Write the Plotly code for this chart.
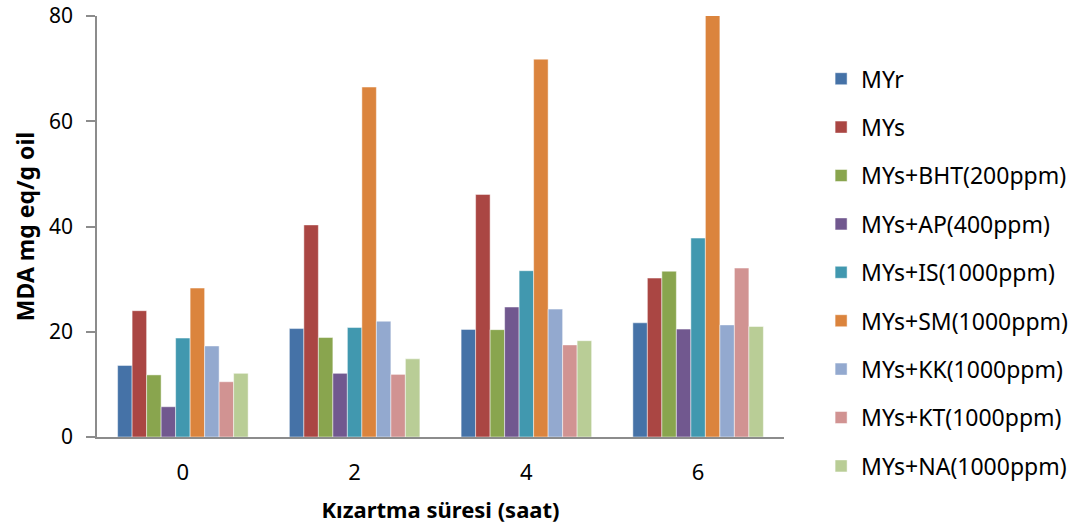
import plotly.graph_objects as go

# Frying time (hours)
hours = ["0", "2", "4", "6"]

series_names = [
    "MYr",
    "MYs",
    "MYs+BHT(200ppm)",
    "MYs+AP(400ppm)",
    "MYs+IS(1000ppm)",
    "MYs+SM(1000ppm)",
    "MYs+KK(1000ppm)",
    "MYs+KT(1000ppm)",
    "MYs+NA(1000ppm)",
]

# MDA values (mg eq/g oil) per series at 0, 2, 4, 6 h
myr = [13.6, 20.6, 20.45, 21.7]
mys = [24.0, 40.3, 46.1, 30.2]
bht = [11.8, 18.9, 20.4, 31.5]
ap = [5.75, 12.1, 24.7, 20.5]
is_ = [18.8, 20.8, 31.6, 37.8]
sm = [28.3, 66.5, 71.8, 80.2]
kk = [17.3, 22.0, 24.3, 21.3]
kt = [10.5, 11.9, 17.5, 32.1]
na = [12.1, 14.85, 18.3, 21.0]

values = [myr, mys, bht, ap, is_, sm, kk, kt, na]

colors = ["#4572A7", "#AA4643", "#89A54E", "#71588F", "#4198AF",
          "#DB843D", "#93A9CF", "#D19392", "#B9CD96"]

FONT = "Noto Sans, Open Sans, sans-serif"

fig = go.Figure()
for name, vals, col in zip(series_names, values, colors):
    fig.add_trace(go.Bar(
        x=hours, y=vals, name=name, legendgroup=name,
        marker=dict(color=col, line=dict(color="rgba(255,255,255,0.6)", width=0.8)),
    ))

fig.update_layout(
    width=1085, height=531,
    margin=dict(l=97, r=298, t=16, b=94),
    paper_bgcolor="white", plot_bgcolor="white",
    barmode="group", bargap=0.24, bargroupgap=0,
    font=dict(family=FONT, size=22, color="#000000"),
    legend=dict(
        x=1.054, y=0.902, xanchor="left", yanchor="top",
        font=dict(size=23, family=FONT),
        tracegroupgap=15.5, traceorder="grouped",
        maxheight=520,
        bgcolor="rgba(0,0,0,0)",
    ),
    xaxis=dict(
        showline=True, linecolor="#8c8c8c", linewidth=1.5,
        ticks="", showgrid=False, automargin=False,
        tickfont=dict(size=22), ticklabelstandoff=15,
        title=dict(text="<b>Kızartma süresi (saat)</b>", font=dict(size=22), standoff=17),
    ),
    yaxis=dict(
        range=[0, 80], tickvals=[0, 20, 40, 60, 80],
        showline=True, linecolor="#8c8c8c", linewidth=1.5,
        ticks="outside", ticklen=9, tickcolor="#8c8c8c", tickwidth=1.5,
        showgrid=False, zeroline=False, automargin=False,
        tickfont=dict(size=21), ticklabelstandoff=9,
        ticklabeloverflow="allow",
        title=dict(text="<b>MDA mg eq/g oil</b>", font=dict(size=23), standoff=8),
    ),
)

fig.write_html("out.html")
